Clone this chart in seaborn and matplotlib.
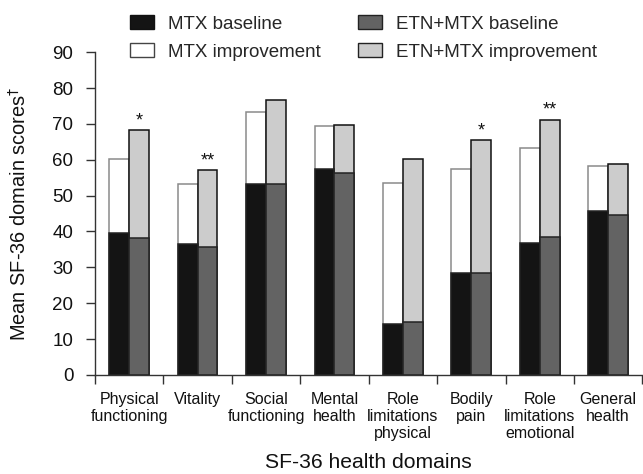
import matplotlib
matplotlib.use("Agg")
import matplotlib.pyplot as plt
from matplotlib.patches import Patch
from matplotlib.ticker import FixedLocator
import numpy as np
import pandas as pd
import seaborn as sns

# SF-36 domain scores: baseline and after treatment (improved score = bar top)
domains = ["Physical\nfunctioning", "Vitality", "Social\nfunctioning", "Mental\nhealth",
           "Role\nlimitations\nphysical", "Bodily\npain", "Role\nlimitations\nemotional",
           "General\nhealth"]
mtx_baseline = [39.7, 36.4, 53.2, 57.5, 14.2, 28.3, 36.8, 45.7]
mtx_improved = [60.2, 53.3, 73.3, 69.4, 53.6, 57.5, 63.3, 58.3]
etn_baseline = [38.1, 35.7, 53.2, 56.3, 14.8, 28.3, 38.4, 44.5]
etn_improved = [68.2, 57.1, 76.6, 69.6, 60.2, 65.4, 71.2, 58.9]
significance = ["*", "**", "", "", "", "*", "**", ""]
groups = ["MTX", "ETN+MTX"]

sns.set_theme(style="ticks")
plt.rcParams["font.family"] = ["Liberation Sans", "DejaVu Sans"]

df = pd.DataFrame({
    "domain": domains * 2,
    "group": [groups[0]] * len(domains) + [groups[1]] * len(domains),
    "baseline": mtx_baseline + etn_baseline,
    "improved": mtx_improved + etn_improved,
})

col_mtx_base = "#141414"
col_mtx_impr = "#ffffff"
col_etn_base = "#636363"
col_etn_impr = "#cccccc"

fig = plt.figure(figsize=(6.43, 4.74), dpi=100)
ax = fig.add_axes([0.1477, 0.2089, 0.8513, 0.6811])

bar_w = 0.58
# improved score (full height) first, baseline drawn on top
sns.barplot(data=df, x="domain", y="improved", hue="group", hue_order=groups,
            order=domains, palette=[col_mtx_impr, col_etn_impr], width=bar_w,
            dodge=True, legend=False, ax=ax, saturation=1)
sns.barplot(data=df, x="domain", y="baseline", hue="group", hue_order=groups,
            order=domains, palette=[col_mtx_base, col_etn_base], width=bar_w,
            dodge=True, legend=False, ax=ax, saturation=1)

edge_cols = ["#8a8a8a", "#111111", "#222222", "#222222"]
for cont, ec in zip(ax.containers, edge_cols):
    for p in cont:
        p.set_edgecolor(ec)
        p.set_linewidth(1.1)

# significance markers above ETN+MTX bars
for i, (sig, top) in enumerate(zip(significance, etn_improved)):
    if sig:
        ax.annotate(sig, xy=(i + bar_w / 4, top), xytext=(0, 0.5),
                    textcoords="offset points", ha="center", va="bottom",
                    fontsize=13, color="#111111")

ax.set_ylim(0, 90)
ax.set_xlim(-0.5, len(domains) - 0.5)
ax.set_yticks(np.arange(0, 91, 10))
ax.tick_params(axis="y", labelsize=13.5, length=6.5, width=1, color="#333333",
               pad=9, labelcolor="#111111")

# category labels on minor ticks, boundary ticks as major ticks
ax.xaxis.set_major_locator(FixedLocator(np.arange(-0.5, len(domains), 1.0)))
ax.xaxis.set_minor_locator(FixedLocator(np.arange(len(domains))))
ax.set_xticklabels([], minor=False)
ax.set_xticklabels(domains, minor=True, fontsize=11.5, linespacing=1.2, color="#111111")
ax.tick_params(axis="x", which="major", length=6.5, width=1, color="#333333")
ax.tick_params(axis="x", which="minor", length=0, pad=12)

for s in ["top", "right"]:
    ax.spines[s].set_visible(False)
for s in ["left", "bottom"]:
    ax.spines[s].set_color("#333333")
    ax.spines[s].set_linewidth(1)

ax.set_xlabel("SF-36 health domains", fontsize=15.2, color="#111111", labelpad=8)
ax.set_ylabel("Mean SF-36 domain scores$^{\\dagger}$", fontsize=14.4, color="#111111",
              labelpad=16)

handles = [
    Patch(facecolor=col_mtx_base, edgecolor="#111111", label="MTX baseline"),
    Patch(facecolor=col_mtx_impr, edgecolor="#444444", label="MTX improvement"),
    Patch(facecolor=col_etn_base, edgecolor="#222222", label="ETN+MTX baseline"),
    Patch(facecolor=col_etn_impr, edgecolor="#222222", label="ETN+MTX improvement"),
]
fig.legend(handles=handles, ncol=2, loc="upper left", bbox_to_anchor=(0.2022, 0.968),
           frameon=False, fontsize=13.5, handlelength=1.28, handleheight=0.78,
           handletextpad=0.75, columnspacing=2.0, labelspacing=0.55, borderpad=0,
           borderaxespad=0)

fig.savefig("out.png", dpi=100)
